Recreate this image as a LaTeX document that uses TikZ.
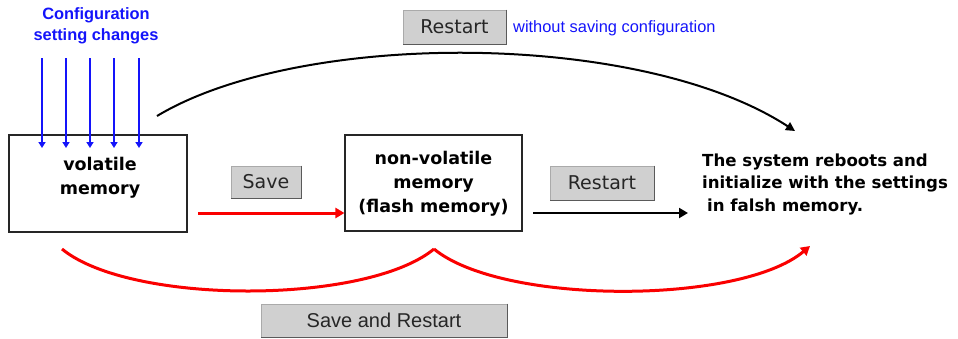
\documentclass[tikz,border=0pt]{standalone}
\usepackage{fontspec}
\setmainfont{DejaVu Sans}
\newfontfamily\labelfont{Liberation Sans}
\usetikzlibrary{arrows.meta}
\definecolor{btnfill}{RGB}{208,208,208}
\definecolor{btnedge}{RGB}{170,170,170}
\definecolor{btnshade}{RGB}{90,90,90}
\definecolor{cfgblue}{RGB}{20,20,250}
\definecolor{savered}{RGB}{250,0,0}
\begin{document}
\begin{tikzpicture}[x=1pt,y=-1pt,
  membox/.style={draw=black!85, line width=1.1pt, fill=white, inner sep=0pt},
  btn/.style={fill=btnfill, draw=btnedge, line width=0.8pt, inner sep=0pt},
  boldtxt/.style={font=\fontsize{17.5}{24}\selectfont\bfseries, align=center, inner sep=0pt},
  btntxt/.style={font=\fontsize{19}{22}\selectfont, text=black!85},
  bluetxt/.style={font=\labelfont\fontsize{16.4}{21}\selectfont, text=cfgblue, inner sep=0pt},
  cfgarrow/.style={cfgblue, line width=1.6pt, -{Triangle[length=6pt,width=7pt]}},
  redarrow/.style={savered, line width=3pt},
  blkarrow/.style={black, line width=2pt},
]
\useasboundingbox (0,0) rectangle (958,338);

% memory boxes
\node[membox, minimum width=178pt, minimum height=97pt] (vol) at (98,183.5) {};
\node[boldtxt] (voltxt) at (100,178) {volatile\\memory};
\node[membox, minimum width=177pt, minimum height=96pt] (nvm) at (433.5,183) {};
\node[boldtxt] (nvmtxt) at (433.5,184) {non-volatile\\memory\\(flash memory)};

% result text
\node[boldtxt, font=\fontsize{16.6}{22.5}\selectfont\bfseries, align=left, anchor=west] (boot) at (702,184)
  {The system reboots and\\initialize with the settings\\\hspace*{5pt}in falsh memory.};

% configuration input
\node[bluetxt, font=\labelfont\bfseries\fontsize{16.4}{21}\selectfont, align=center] (cfg) at (96,26)
  {Configuration\\setting changes};
\foreach \i/\x in {1/42,2/66,3/90,4/114,5/139}{
  \coordinate (cin\i) at (\x,58);
  \coordinate (cout\i) at (\x,148);
  \draw[cfgarrow] (cin\i) -- (cout\i);
}

% buttons
\node[btn, minimum width=103pt, minimum height=34pt] (rtop) at (454.5,27) {};
\node[btntxt] at (rtop) {Restart};
\node[btn, minimum width=70pt, minimum height=32pt] (save) at (266,182) {};
\node[btntxt] at (save) {Save};
\node[btn, minimum width=104pt, minimum height=34pt] (rmid) at (602,183) {};
\node[btntxt] at (rmid) {Restart};
\node[btn, minimum width=246pt, minimum height=33pt] (sar) at (384,320.5) {};
\node[btntxt, font=\labelfont\fontsize{20}{22}\selectfont] at (sar) {Save and Restart};
\foreach \b in {rtop,save,rmid,sar}{
  \draw[btnshade, line width=1.6pt] (\b.north east) -- (\b.south east) -- (\b.south west);
}
\node[bluetxt, anchor=west] (nosave) at (513,28) {without saving configuration};

% connectors
\coordinate (topstart) at (157,116);
\coordinate (topend) at (795,131);
\draw[blkarrow, -{Triangle[length=9pt,width=9pt]}] (topstart) .. controls (300,30) and (640,30) .. (topend);

\coordinate (savestart) at (198,213);
\draw[redarrow, -{Triangle[length=9pt,width=10pt]}] (savestart) -- (nvm.west |- savestart);

\coordinate (rstart) at (533,213);
\coordinate (rend) at (688,213);
\draw[blkarrow, -{Triangle[length=9pt,width=10pt]}] (rstart) -- (rend);

\coordinate (sarA) at (62,249);
\coordinate (sarB) at (434,249);
\coordinate (sarC) at (810,246);
\draw[redarrow] (sarA) .. controls (130,305) and (366,305) .. (sarB);
\draw[redarrow, -{Triangle[length=9pt,width=10pt]}] (sarB) .. controls (502,305) and (740,305) .. (sarC);
\end{tikzpicture}
\end{document}
